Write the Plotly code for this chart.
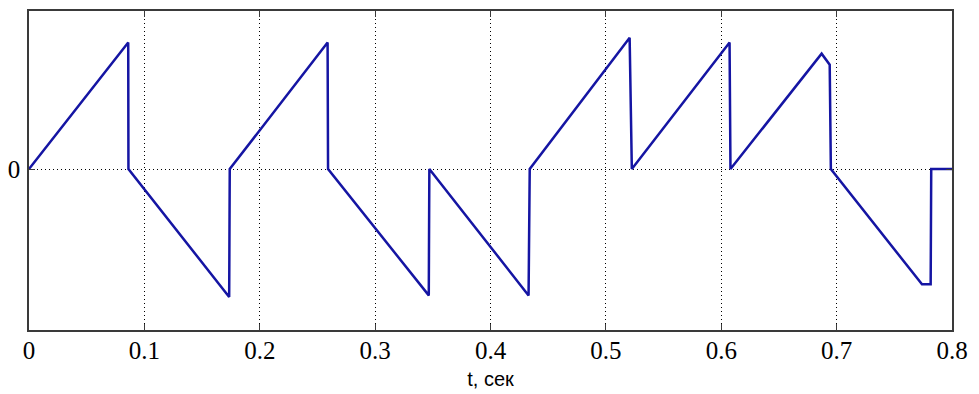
import plotly.graph_objects as go

# Vertices of the signal (time in s, amplitude in relative units)
t_points = [0.0, 0.0855, 0.0860, 0.0862, 0.1735, 0.1740,
            0.2580, 0.2588, 0.2592, 0.3465, 0.3470,
            0.4330, 0.4340, 0.5200, 0.5206, 0.5225,
            0.6065, 0.6072, 0.6080, 0.6870, 0.6940, 0.6950,
            0.7740, 0.7815, 0.7820, 0.8000]
y_points = [0.0, 0.80, 0.80, 0.0, -0.81, 0.0,
            0.80, 0.80, 0.0, -0.80, 0.0,
            -0.80, 0.0, 0.83, 0.83, 0.0,
            0.80, 0.80, 0.0, 0.73, 0.66, 0.0,
            -0.73, -0.73, 0.0, 0.0]

x_ticks = [0, 0.1, 0.2, 0.3, 0.4, 0.5, 0.6, 0.7, 0.8]
x_tick_labels = ["0", "0.1", "0.2", "0.3", "0.4", "0.5", "0.6", "0.7", "0.8"]
y_ticks = [0]
y_tick_labels = ["0"]
x_title = "t, сек"

fig = go.Figure()
fig.add_trace(go.Scatter(x=t_points, y=y_points, mode="lines",
                         line=dict(color="#1515a3", width=2.5),
                         showlegend=False, hoverinfo="skip"))

axis_col = "#3a3a3a"
# page body has an 8px margin, so the figure is sized/offset to compensate
fig.update_layout(
    width=971, height=386,
    margin=dict(l=21, r=27, t=3, b=64),
    paper_bgcolor="white", plot_bgcolor="white",
    xaxis=dict(range=[0, 0.8], tickvals=x_ticks, ticktext=x_tick_labels,
               automargin=False,
               showline=True, linecolor=axis_col, linewidth=1.5, mirror="ticks",
               ticks="inside", ticklen=6, tickcolor=axis_col, tickwidth=1,
               showgrid=True, gridcolor="black", griddash="1px,3px", gridwidth=1,
               zeroline=False, ticklabelstandoff=-3,
               tickfont=dict(family="Liberation Serif", size=25, color="black"),
               title=dict(text=x_title, standoff=9,
                          font=dict(family="Liberation Sans", size=20, color="black"))),
    yaxis=dict(range=[-1.019, 1.0], tickvals=y_ticks, ticktext=y_tick_labels,
               automargin=False,
               showline=True, linecolor=axis_col, linewidth=1.5, mirror="ticks",
               ticks="inside", ticklen=6, tickcolor=axis_col, tickwidth=1,
               showgrid=True, gridcolor="black", griddash="1px,3px", gridwidth=1,
               zeroline=False, ticklabelstandoff=2,
               tickfont=dict(family="Liberation Serif", size=25, color="black")),
)

fig.write_html("out.html")
